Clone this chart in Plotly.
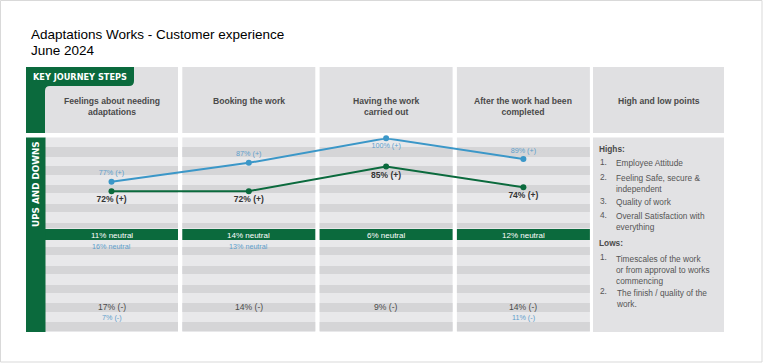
import plotly.graph_objects as go

# ---------------- data ----------------
steps = ["Feelings about needing<br>adaptations", "Booking the work",
         "Having the work<br>carried out", "After the work had been<br>completed"]
green_pos = [72, 72, 85, 74]          # % positive (dark green series)
blue_pos = [77, 87, 100, 89]          # % positive (blue series)
green_neutral = [11, 14, 6, 12]
blue_neutral = [16, 13, None, None]
green_neg = [17, 14, 9, 14]
blue_neg = [7, None, None, 11]
highs = ["Employee Attitude", "Feeling Safe, secure &<br>independent",
         "Quality of work", "Overall Satisfaction with<br>everything"]
lows = ["Timescales of the work<br>or from approval to works<br>commencing",
        "The finish / quality of the<br>work."]

# ---------------- style ----------------
GREEN = "#0b6a3d"
BLUE = "#3b97c8"
BLUE_TXT = "#5e9ecb"
HEAD_GRAY = "#e0e0e2"
LIGHT = "#e8e8ea"
DARK = "#d5d5d7"
TXT = "#4a4a4a"
FONT = "Liberation Sans, Arial, sans-serif"
CAPS = "DejaVu Sans, sans-serif"

W, H = 765, 363
col_left0, col_step, col_w = 45, 137.3, 133
head_top, head_bot = 67, 133
body_top, body_bot = 137.5, 332
neutral_top, neutral_bot = 229, 240
dark_bands = [(147, 157), (166, 175), (185, 193), (204, 212), (223, 228),
              (247, 255), (266, 274), (285, 293), (303, 312), (322, 331)]
right_x0, right_x1 = 593, 724

shapes = []

def rect(x0, y0, x1, y1, color, line=None):
    shapes.append(dict(type="rect", xref="x", yref="y", x0=x0, y0=y0, x1=x1, y1=y1,
                       fillcolor=color, line=dict(width=0) if line is None else line,
                       layer="below"))

# outer border
rect(0.5, 0.5, 762, 362, "rgba(0,0,0,0)", line=dict(color="#d9d9d9", width=1))

for i in range(len(steps)):
    x0 = col_left0 + i * col_step
    x1 = x0 + col_w
    rect(x0, head_top, x1, head_bot, HEAD_GRAY)
    rect(x0, body_top, x1, body_bot, LIGHT)
    for (a, b) in dark_bands:
        rect(x0, a, x1, b, DARK)
    rect(x0, neutral_top, x1, neutral_bot, GREEN)

# right panel
rect(right_x0, head_top, right_x1, head_bot, HEAD_GRAY)
rect(right_x0, body_top, right_x1, body_bot, "#e2e2e4")

# green tab + vertical bar (header)
shapes.append(dict(type="path", xref="x", yref="y", layer="below",
                   path="M 26,67 L 134,67 L 134,81 Q 134,86 129,86 L 50,86 Q 45,86 45,91 L 45,133 L 26,133 Z",
                   fillcolor=GREEN, line=dict(width=0)))
# green vertical bar (body)
rect(26, body_top, 45.5, body_bot, GREEN)

fig = go.Figure()
# empty trace to keep the pixel subplot
fig.add_trace(go.Scatter(x=[], y=[], xaxis="x", yaxis="y", showlegend=False))

fig.add_trace(go.Scatter(
    x=steps, y=blue_pos, xaxis="x2", yaxis="y2", mode="lines+markers+text",
    line=dict(color=BLUE, width=2), marker=dict(color=BLUE, size=6),
    text=[f"{v}% (+)" for v in blue_pos],
    textposition=["top center" if v < 100 else "bottom center" for v in blue_pos],
    textfont=dict(family=FONT, size=7.2, color=BLUE_TXT), cliponaxis=False,
    hoverinfo="skip"))
fig.add_trace(go.Scatter(
    x=steps, y=green_pos, xaxis="x2", yaxis="y2", mode="lines+markers+text",
    line=dict(color=GREEN, width=2), marker=dict(color=GREEN, size=6),
    text=[f"<b>{v}% (+)</b>" for v in green_pos], textposition="bottom center",
    textfont=dict(family=FONT, size=8.5, color="#333333"), cliponaxis=False,
    hoverinfo="skip"))

ann = []

def text(x, y, s, size, color, xref="x", yref="y", xanchor="center", yanchor="middle",
         family=FONT, align="center", **kw):
    ann.append(dict(x=x, y=y, xref=xref, yref=yref, text=s, showarrow=False,
                    xanchor=xanchor, yanchor=yanchor, align=align,
                    font=dict(family=family, size=size, color=color), **kw))

# title
text(29, 34, "Adaptations Works - Customer experience", 13.5, "black", xanchor="left")
text(29, 50, "June 2024", 13.5, "black", xanchor="left")

# tab labels
text(80, 76.5, "<b>KEY JOURNEY STEPS</b>", 8.2, "white", family=CAPS)
text(36, 184, "<b>UPS AND DOWNS</b>", 8.8, "white", family=CAPS, textangle=-90)

# column headings
for s in steps:
    text(s, 94, f"<b>{s}</b>", 8.6, TXT, xref="x2", yanchor="top")
text((right_x0 + right_x1) / 2, 94, "<b>High and low points</b>", 8.6, TXT, yanchor="top")

# neutral / negative values
for s, gn, bn, gm, bm in zip(steps, green_neutral, blue_neutral, green_neg, blue_neg):
    text(s, 235, f"{gn}% neutral", 8, "white", xref="x2")
    if bn is not None:
        text(s, 246.5, f"{bn}% neutral", 7.2, BLUE_TXT, xref="x2")
    text(s, 307, f"{gm}% (-)", 8.6, TXT, xref="x2")
    if bm is not None:
        text(s, 317, f"{bm}% (-)", 7.2, BLUE_TXT, xref="x2")

# highs / lows
LIST = "#555555"
text(597, 148.5, "<b>Highs:</b>", 8.3, TXT, xanchor="left")
hy = [161.7, 176.7, 201, 215]
for k, (s, y) in enumerate(zip(highs, hy)):
    text(597.5, y, f"{k+1}.", 8.3, LIST, xanchor="left")
    text(614, y - 5.7, s, 8.3, LIST, xanchor="left", yanchor="top", align="left")
text(597, 242.5, "<b>Lows:</b>", 8.3, TXT, xanchor="left")
ly = [257.3, 291.3]
for k, (s, y) in enumerate(zip(lows, ly)):
    text(597.5, y, f"{k+1}.", 8.3, LIST, xanchor="left")
    text(614, y - 5.7, s, 8.3, LIST, xanchor="left", yanchor="top", align="left")

# axis placement: categories centred on columns, values mapped into body area
cx0 = col_left0 + col_w / 2
x2_lo = (cx0 - 0.5 * col_step) / W
x2_hi = (cx0 + 3.5 * col_step) / W
y_at0, y_at100 = 327.0, 138.3

fig.update_layout(
    width=W, height=H, margin=dict(l=0, r=0, t=0, b=0),
    paper_bgcolor="white", plot_bgcolor="rgba(0,0,0,0)", showlegend=False,
    shapes=shapes, annotations=ann,
    xaxis=dict(range=[0, W], domain=[0, 1], visible=False, fixedrange=True),
    yaxis=dict(range=[H, 0], domain=[0, 1], visible=False, fixedrange=True),
    xaxis2=dict(type="category", categoryorder="array", categoryarray=steps,
                range=[-0.5, 3.5], domain=[x2_lo, x2_hi], anchor="y2", visible=False,
                fixedrange=True),
    yaxis2=dict(range=[0, 100], domain=[1 - y_at0 / H, 1 - y_at100 / H],
                anchor="x2", visible=False, fixedrange=True),
)

fig.write_html("out.html", config={"displayModeBar": False},
               post_script="document.body.style.margin='0';document.body.style.overflow='hidden';")
